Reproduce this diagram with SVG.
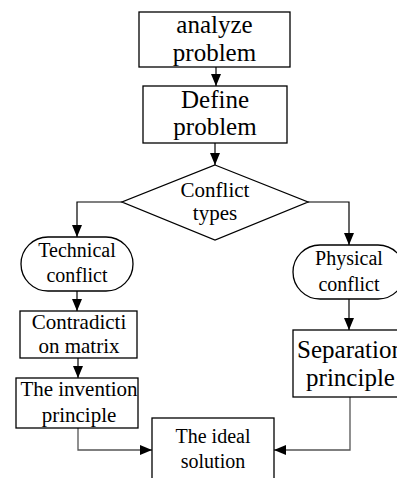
<svg xmlns="http://www.w3.org/2000/svg" width="397" height="478" viewBox="0 0 397 478">
<defs>
<marker id="ah" markerUnits="userSpaceOnUse" markerWidth="12" markerHeight="10" refX="12" refY="5" orient="auto">
<path d="M0,0 L12,5 L0,10 z" fill="#000"/>
</marker>
<style>
.box{fill:#fff;stroke:#000;stroke-width:1.3}
.t{fill:#000;text-anchor:middle}
.c{fill:none;stroke:#000;stroke-width:1.2;marker-end:url(#ah)}
.g{fill:none;stroke:#555;stroke-width:1.3;marker-end:url(#ah)}
</style>
</defs>
<rect width="397" height="478" fill="#fff"/>
<g id="connectors">
<path class="c" d="M216,67 V86"/>
<path class="c" d="M215,143 V165"/>
<path class="c" d="M122,202 H77 V237"/>
<path class="c" d="M308,202 H349 V245"/>
<path class="c" d="M77,291 V311"/>
<path class="c" d="M78,358 V378"/>
<path class="c" d="M349,299 V330"/>
<path class="g" d="M78,428 V450 H152"/>
<path class="g" d="M350,397 V450 H274"/>
</g>
<g font-family="Liberation Serif, DejaVu Serif, serif">
<g id="analyze">
<rect class="box" x="139" y="12" width="151" height="55"/>
<text class="t" x="214.5" y="33" font-size="25">analyze</text>
<text class="t" x="214.5" y="61" font-size="25">problem</text>
</g>
<g id="define">
<rect class="box" x="143" y="86" width="144" height="57"/>
<text class="t" x="215" y="108" font-size="25">Define</text>
<text class="t" x="215" y="135" font-size="25">problem</text>
</g>
<g id="conflict-types">
<polygon class="box" points="215,165 308,202 215,240 122,202"/>
<text class="t" x="215" y="197" font-size="21">Conflict</text>
<text class="t" x="215" y="220" font-size="21">types</text>
</g>
<g id="technical">
<rect class="box" x="21" y="237" width="112" height="54" rx="27" ry="27"/>
<text class="t" x="77" y="257" font-size="20">Technical</text>
<text class="t" x="77" y="282" font-size="20">conflict</text>
</g>
<g id="physical">
<rect class="box" x="293" y="245" width="112" height="54" rx="27" ry="27"/>
<text class="t" x="349" y="265" font-size="20">Physical</text>
<text class="t" x="349" y="291" font-size="20">conflict</text>
</g>
<g id="contradiction">
<rect class="box" x="20" y="311" width="117" height="47"/>
<text class="t" x="79" y="329" font-size="21">Contradicti</text>
<text class="t" x="79" y="353" font-size="21">on matrix</text>
</g>
<g id="invention">
<rect class="box" x="16" y="378" width="122" height="50"/>
<text class="t" x="79" y="396" font-size="21">The invention</text>
<text class="t" x="79" y="422" font-size="21">principle</text>
</g>
<g id="separation">
<rect class="box" x="293" y="330" width="115" height="67"/>
<text class="t" x="350.5" y="358" font-size="25">Separation</text>
<text class="t" x="350.5" y="386" font-size="25">principle</text>
</g>
<g id="ideal">
<rect class="box" x="152" y="418" width="122" height="70"/>
<text class="t" x="213" y="443" font-size="20">The ideal</text>
<text class="t" x="213" y="468" font-size="20">solution</text>
</g>
</g>
</svg>
